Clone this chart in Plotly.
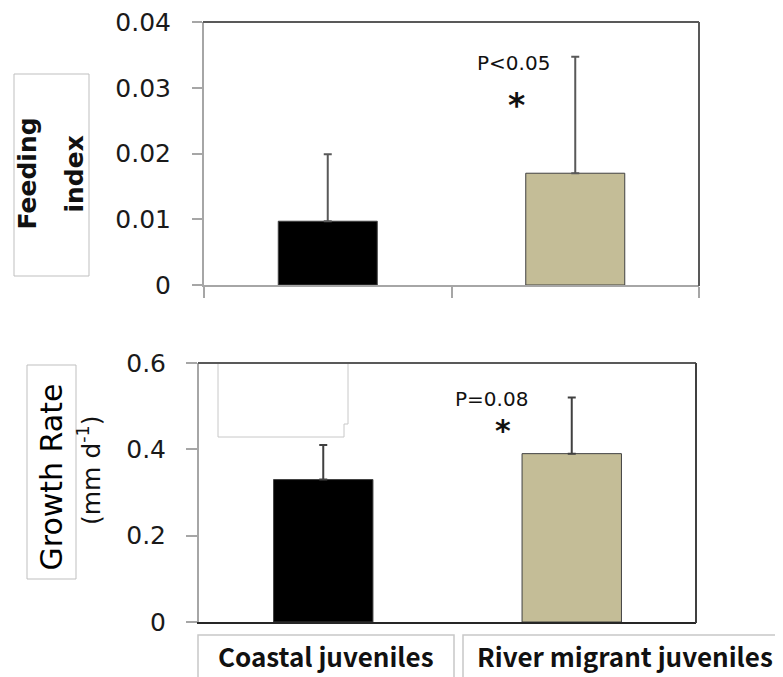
import plotly.graph_objects as go

# The page body has an 8px margin, so the figure is 8px smaller on each axis
OFF = 8
W, H = 783 - OFF, 677 - OFF
def PX(x): return (x - OFF) / W
def PY(y): return 1 - (y - OFF) / H

categories = ["Coastal juveniles", "River migrant juveniles"]
feeding_index = [0.0097, 0.0170]
feeding_err = [0.0102, 0.0177]
growth_rate = [0.33, 0.39]
growth_err = [0.08, 0.13]
bar_colors = ["#000000", "#c4bd97"]
feed_ticks = [0, 0.01, 0.02, 0.03, 0.04]
feed_ticklabels = ["0", "0.01", "0.02", "0.03", "0.04"]
growth_ticks = [0, 0.2, 0.4, 0.6]
growth_ticklabels = ["0", "0.2", "0.4", "0.6"]

GRAY = "#a6a6a6"
DARK = "#595959"
NUMFONT = "DejaVu Sans"
CJK = "Noto Sans CJK JP"

fig = go.Figure()
fig.add_trace(go.Bar(
    x=categories, y=feeding_index, width=0.4,
    marker=dict(color=bar_colors, line=dict(color="#404040", width=1)),
    error_y=dict(type="data", array=feeding_err, arrayminus=[0, 0], symmetric=False,
                 color=DARK, thickness=2, width=4),
    xaxis="x", yaxis="y", showlegend=False))
fig.add_trace(go.Bar(
    x=categories, y=growth_rate, width=0.4,
    marker=dict(color=bar_colors, line=dict(color="#404040", width=1)),
    error_y=dict(type="data", array=growth_err, arrayminus=[0, 0], symmetric=False,
                 color="#404040", thickness=2, width=4),
    xaxis="x2", yaxis="y2", showlegend=False))

fig.update_layout(
    width=W, height=H, margin=dict(l=0, r=0, t=0, b=0, autoexpand=False),
    paper_bgcolor="white", plot_bgcolor="white",
    xaxis=dict(domain=[PX(204), PX(699)], anchor="y", range=[-0.5, 1.5],
               showline=True, linecolor=GRAY, linewidth=2,
               ticks="outside", tickson="boundaries", ticklen=11, tickcolor=GRAY, tickwidth=2,
               showticklabels=False, showgrid=False, zeroline=False),
    yaxis=dict(domain=[PY(285), PY(22)], anchor="x", range=[0, 0.04],
               tickvals=feed_ticks, ticktext=feed_ticklabels,
               showline=True, linecolor=GRAY, linewidth=2,
               ticks="outside", ticklen=10, tickcolor=GRAY, tickwidth=2,
               ticklabelstandoff=16, ticklabeloverflow="allow",
               tickfont=dict(family=NUMFONT, size=25, color="#1a1a1a"),
               showgrid=False, zeroline=False),
    xaxis2=dict(domain=[PX(199), PX(696)], anchor="y2", range=[-0.5, 1.5],
                showline=True, linecolor="#262626", linewidth=2,
                ticks="", showticklabels=False, showgrid=False, zeroline=False),
    yaxis2=dict(domain=[PY(622), PY(363)], anchor="x2", range=[0, 0.6],
                tickvals=growth_ticks, ticktext=growth_ticklabels,
                showline=True, linecolor=GRAY, linewidth=2,
                ticks="outside", ticklen=11, tickcolor=GRAY, tickwidth=2,
                ticklabelstandoff=15, ticklabeloverflow="allow",
                tickfont=dict(family=NUMFONT, size=25, color="#1a1a1a"),
                showgrid=False, zeroline=False),
)

shapes = []
def line(x0, y0, x1, y1, color, w):
    shapes.append(dict(type="line", xref="paper", yref="paper",
                       x0=PX(x0), y0=PY(y0), x1=PX(x1), y1=PY(y1),
                       line=dict(color=color, width=w)))
def rect(x0, y0, x1, y1, color, w):
    shapes.append(dict(type="rect", xref="paper", yref="paper",
                       x0=PX(x0), y0=PY(y0), x1=PX(x1), y1=PY(y1),
                       line=dict(color=color, width=w), fillcolor="rgba(0,0,0,0)"))

# panel borders
line(203, 22, 699, 22, DARK, 2)
line(699, 22, 699, 286, DARK, 2)
line(198, 363, 696, 363, DARK, 2)
line(696, 363, 696, 623, "#404040", 2)

# axis-title boxes
rect(14, 74, 89, 276, "#bfbfbf", 1)
rect(27, 365, 76, 579, "#bfbfbf", 1)
# category boxes
rect(198, 635, 454, 690, "#c8c8c8", 1.5)
rect(463, 635, 800, 690, "#c8c8c8", 1.5)

# white box remnant in lower panel
path = "M {} {} L {} {} L {} {} L {} {} L {} {} L {} {}".format(
    PX(218), PY(364), PX(218), PY(437), PX(344), PY(437),
    PX(344), PY(424), PX(348), PY(424), PX(348), PY(364))
shapes.append(dict(type="path", xref="paper", yref="paper", path=path,
                   line=dict(color="#c8c8c8", width=1)))
fig.update_layout(shapes=shapes)

ann = []
def text(x, y, t, size, family, bold=False, angle=0, color="#111111"):
    if bold:
        t = "<b>" + t + "</b>"
    ann.append(dict(xref="paper", yref="paper", x=PX(x), y=PY(y), text=t,
                    showarrow=False, xanchor="center", yanchor="middle",
                    textangle=angle, font=dict(family=family, size=size, color=color)))

text(26.5, 174, "Feeding", 25, NUMFONT, bold=True, angle=-90)
text(73.5, 174, "index", 25, NUMFONT, bold=True, angle=-90)
text(50.5, 477, "Growth Rate", 30, NUMFONT, angle=-90, color="#000000")
text(89, 470, "(mm d<sup>-1</sup>)", 25, NUMFONT, angle=-90)

text(513.5, 63, "P&lt;0.05", 20, NUMFONT)
text(516, 105, "*", 33, NUMFONT, bold=True)
text(491.5, 399, "P=0.08", 20, NUMFONT)
text(503, 430, "*", 30, NUMFONT, bold=True)

text(325.5, 655, categories[0], 26, CJK, bold=True)
text(625, 655, categories[1], 26, CJK, bold=True)
fig.update_layout(annotations=ann)

fig.write_html("out.html")
